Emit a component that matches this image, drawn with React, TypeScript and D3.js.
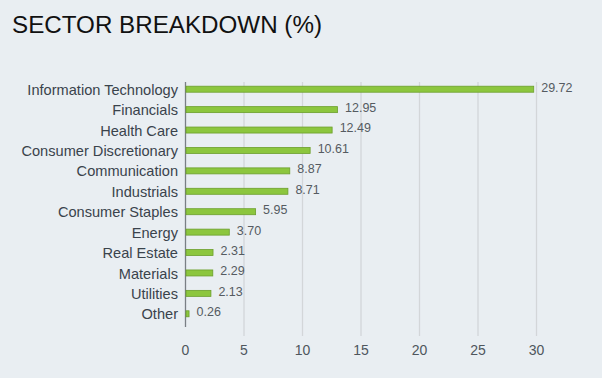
import React from "react";
import * as d3 from "d3";

const categories = [
  "Information Technology",
  "Financials",
  "Health Care",
  "Consumer Discretionary",
  "Communication",
  "Industrials",
  "Consumer Staples",
  "Energy",
  "Real Estate",
  "Materials",
  "Utilities",
  "Other",
];
const values = [29.72, 12.95, 12.49, 10.61, 8.87, 8.71, 5.95, 3.7, 2.31, 2.29, 2.13, 0.26];
const xTicks = [0, 5, 10, 15, 20, 25, 30];

export default function App() {
  const W = 602;
  const H = 378;
  const x = d3.scaleLinear().domain([0, 30]).range([185.5, 536.5]);
  const y = d3.scaleBand<string>().domain(categories).range([79, 324]).paddingInner(0.7).paddingOuter(0.35);
  const bh = 6;
  const font = "Arial, 'Liberation Sans', sans-serif";
  return (
    <svg width={W} height={H} style={{ position: "absolute", left: 0, top: 0, background: "#e9eef2" }}>
      <rect x={0} y={0} width={W} height={H} fill="#e9eef2" />
      <text x={12} y={33} fontFamily={font} fontSize={24.2} fill="#111">
        SECTOR BREAKDOWN (%)
      </text>
      {xTicks.filter((t) => t > 0).map((t) => (
        <line key={t} x1={x(t)} x2={x(t)} y1={82} y2={336} stroke="#d3d6d9" strokeWidth={1.3} />
      ))}
      <line x1={x(0)} x2={x(0)} y1={82} y2={327} stroke="#7a7f85" strokeWidth={1.3} />
      {categories.map((c, i) => {
        const cy = (y(c) as number) + y.bandwidth() / 2;
        return (
          <g key={c}>
            <rect
              x={x(0) + 0.5}
              y={cy - bh / 2}
              width={Math.max(1, x(values[i]) - x(0))}
              height={bh}
              fill="#8cc63e"
              stroke="#6c9f2c"
              strokeWidth={0.8}
            />
            <text x={178} y={cy + 0.5} dy="0.35em" textAnchor="end" fontFamily={font} fontSize={14.6} fill="#3a434c">
              {c}
            </text>
            <text x={x(values[i]) + 8} y={cy - 2} dy="0.35em" fontFamily={font} fontSize={12.5} fill="#555b61">
              {values[i].toFixed(2)}
            </text>
          </g>
        );
      })}
      {xTicks.map((t) => (
        <text key={t} x={x(t)} y={350} dy="0.35em" textAnchor="middle" fontFamily={font} fontSize={14} fill="#4f565d">
          {t}
        </text>
      ))}
    </svg>
  );
}
